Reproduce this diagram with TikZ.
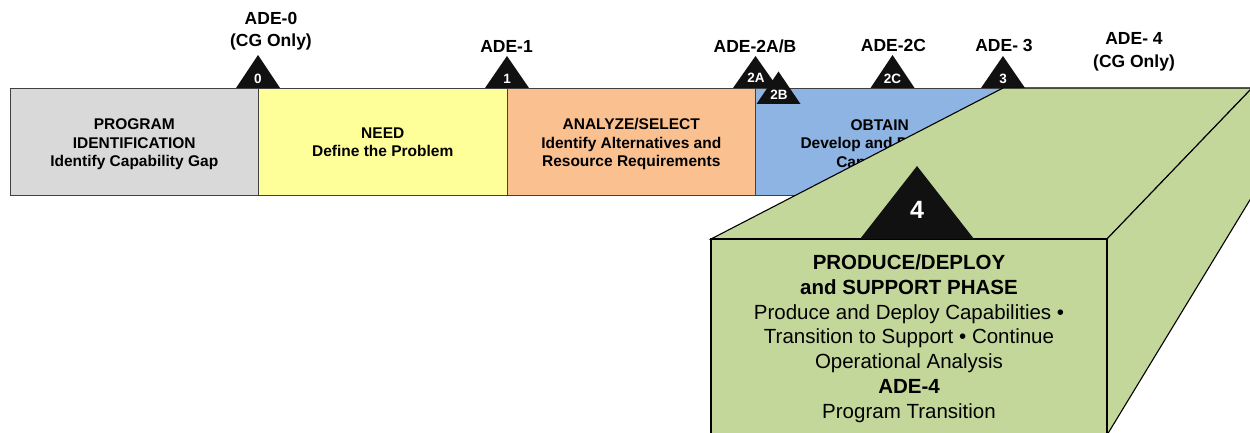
\documentclass[tikz,border=0pt]{standalone}
\usepackage{fontspec}
\setmainfont{Liberation Sans}
\definecolor{pidgray}{HTML}{D9D9D9}
\definecolor{needyellow}{HTML}{FFFF99}
\definecolor{selorange}{HTML}{FAC08F}
\definecolor{obtblue}{HTML}{8EB4E3}
\definecolor{pdgreen}{HTML}{C4D79B}
\definecolor{trifill}{HTML}{111111}
\begin{document}
\begin{tikzpicture}[x=1pt,y=-1pt,
  phasebox/.style={draw=black!75, line width=0.8pt, minimum height=107pt,
    minimum width=248.5pt, inner sep=0pt},
  phasetext/.style={align=center, inner sep=0pt,
    font=\bfseries\fontsize{15.5}{18.4}\selectfont},
  adelabel/.style={align=center, inner sep=0pt,
    font=\bfseries\fontsize{17.5}{22.5}\selectfont},
  trimark/.style={fill=trifill},
  trinum/.style={text=white, inner sep=0pt,
    font=\bfseries\fontsize{13.5}{14}\selectfont},
  gface/.style={fill=pdgreen, draw=black, line width=1.1pt, line join=miter},
  fronttext/.style={align=center, inner sep=0pt,
    font=\fontsize{20.5}{24.8}\selectfont}]
\useasboundingbox (0,0) rectangle (1250,433);
\clip (0,0) rectangle (1250,433);

% phase bar
\node[phasebox, fill=pidgray]    (pid) at (134.25,141.5) {};
\node[phasebox, fill=needyellow] (need) at (382.75,141.5) {};
\node[phasebox, fill=selorange]  (sel) at (631.25,141.5) {};
\node[phasebox, fill=obtblue]    (obt) at (879.75,141.5) {};
\node[phasetext] (pidtxt) at ([yshift=-3pt]pid.center) {PROGRAM\\IDENTIFICATION\\Identify Capability Gap};
\node[phasetext] (needtxt) at ([yshift=-1pt]need.center) {NEED\\Define the Problem};
\node[phasetext] (seltxt) at ([yshift=-2.5pt]sel.center) {ANALYZE/SELECT\\Identify Alternatives and\\Resource Requirements};
\node[phasetext] (obttxt) at ([yshift=-3.5pt]obt.center) {OBTAIN\\Develop and Produce\\Capabilities};

% decision event markers
\fill[trimark] (236,88) -- (258,55) -- (280,88) -- cycle;
\node[trinum] (n0) at (258,78.5) {0};
\fill[trimark] (485,88) -- (507,56) -- (529,88) -- cycle;
\node[trinum] (n1) at (507,79) {1};
\fill[trimark] (733,88) -- (755.5,56) -- (778,88) -- cycle;
\node[trinum] (n2a) at (756,78) {2A};
\fill[trimark] (756.5,104) -- (778.5,71.5) -- (800.5,104) -- cycle;
\node[trinum] (n2b) at (779,94.5) {2B};
\fill[trimark] (870.5,88) -- (892.5,55) -- (914.5,88) -- cycle;
\node[trinum] (n2c) at (892.5,78.5) {2C};
\fill[trimark] (981,88) -- (1003,56) -- (1025,88) -- cycle;
\node[trinum] (n3) at (1003,78.5) {3};

% decision event labels
\node[adelabel] (ade0) at (271,31) {ADE-0\\(CG Only)};
\node[adelabel, anchor=base] (ade1) at (506.5,53) {ADE-1};
\node[adelabel, anchor=base] (ade2ab) at (755,53) {ADE-2A/B};
\node[adelabel, anchor=base] (ade2c) at (893.5,52) {ADE-2C};
\node[adelabel, anchor=base] (ade3) at (1004,52) {ADE- 3};
\node[adelabel] (ade4) at (1134,52) {ADE- 4\\(CG Only)};

% produce/deploy block
\filldraw[gface] (711,239) -- (1003,88) -- (1252,88) -- (1107,239) -- cycle;
\filldraw[gface] (1107,239) -- (1252,88) -- (1318,88) -- (1107,435) -- cycle;
\filldraw[gface] (711,239) rectangle (1107,450);
\fill[trimark] (860,239) -- (917,166) -- (974,239) -- cycle;
\node[text=white, inner sep=0pt, font=\bfseries\fontsize{25}{26}\selectfont] (n4) at (917,209.5) {4};
\node[fronttext] (pdtxt) at (909,338.5) {\textbf{PRODUCE/DEPLOY}\\\textbf{and SUPPORT PHASE}\\Produce and Deploy Capabilities •\\Transition to Support • Continue\\Operational Analysis\\\textbf{ADE-4}\\Program Transition};
\end{tikzpicture}
\end{document}
